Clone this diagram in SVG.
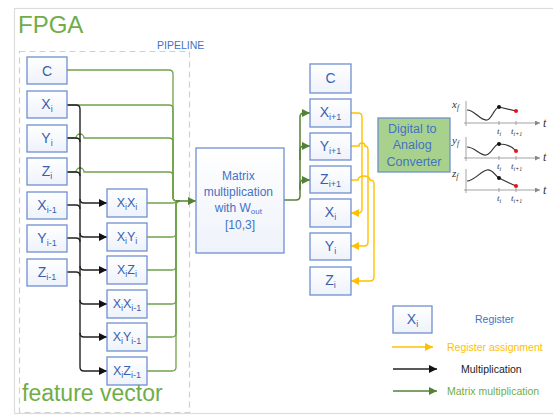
<svg xmlns="http://www.w3.org/2000/svg" width="553" height="417" viewBox="0 0 553 417">
  <defs>
    <linearGradient id="boxFill" x1="0" y1="0" x2="0" y2="1">
      <stop offset="0" stop-color="#ffffff"/>
      <stop offset="1" stop-color="#eef2fa"/>
    </linearGradient>
    <marker id="arrGreen" viewBox="0 0 10 10" refX="10" refY="5" markerWidth="8" markerHeight="8" markerUnits="userSpaceOnUse" orient="auto">
      <path d="M0,0 L10,5 L0,10 z" fill="#548235"/>
    </marker>
    <marker id="arrBlack" viewBox="0 0 10 10" refX="10" refY="5" markerWidth="8" markerHeight="8" markerUnits="userSpaceOnUse" orient="auto">
      <path d="M0,0 L10,5 L0,10 z" fill="#111"/>
    </marker>
    <marker id="arrYellow" viewBox="0 0 10 10" refX="10" refY="5" markerWidth="8" markerHeight="8" markerUnits="userSpaceOnUse" orient="auto">
      <path d="M0,0 L10,5 L0,10 z" fill="#FFC000"/>
    </marker>
    <marker id="arrAxis" viewBox="0 0 10 10" refX="10" refY="5" markerWidth="5" markerHeight="5" markerUnits="userSpaceOnUse" orient="auto">
      <path d="M0,0 L10,5 L0,10 z" fill="#888"/>
    </marker>
  </defs>
  <style>
    .box { fill: url(#boxFill); stroke: #6F8FD0; stroke-width: 1.3; }
    .lbl { font-family: "Liberation Sans", Arial, sans-serif; font-size: 14px; fill: #3A5FAF; text-anchor: middle; }
    .plbl { font-family: "Liberation Sans", Arial, sans-serif; font-size: 12.5px; fill: #3A5FAF; text-anchor: middle; }
    .sub { font-size: 9px; }
    .green { fill: none; stroke: #6FA34C; stroke-width: 1.3; }
    .green2 { fill: none; stroke: #548235; stroke-width: 1.5; }
    .black { fill: none; stroke: #222; stroke-width: 1.4; }
    .yellow { fill: none; stroke: #FFC000; stroke-width: 1.4; }
    .blueTxt { font-family: "Liberation Sans", Arial, sans-serif; fill: #4472C4; }
    .legTxt { font-family: "Liberation Sans", Arial, sans-serif; font-size: 10.5px; }
    .curve { fill: none; stroke: #333; stroke-width: 1.2; }
    .axis { fill: none; stroke: #999; stroke-width: 0.9; }
    .math { font-family: "Liberation Serif", "Times New Roman", serif; font-style: italic; fill: #333; }
  </style>

  <!-- frame -->
  <rect x="14.5" y="8.5" width="560" height="405" fill="#fff" stroke="#dcdcdc" stroke-width="1.2"/>
  <text x="18" y="33" font-family="Liberation Sans, Arial, sans-serif" font-size="24" fill="#70AD47">FPGA</text>
  <text x="157" y="49" class="blueTxt" font-size="10.5">PIPELINE</text>
  <rect x="19.5" y="51.5" width="170" height="361" fill="none" stroke="#d0d0d0" stroke-width="1.2" stroke-dasharray="6,4"/>
  <text x="22" y="401" font-family="Liberation Sans, Arial, sans-serif" font-size="23" fill="#70AD47">feature vector</text>

  <!-- connectors -->
  <g id="connectors">
    <!-- inputs to matrix multiplication -->
    <path class="green" d="M67,70 H169 Q173,70 173,74 V197 Q173,201 177,201"/>
    <path class="green" d="M67,105 H169 Q173,105 173,109 V197 Q173,201 177,201"/>
    <path class="green" d="M67,138 H76 a4,4 0 0 1 8,0 H169 Q173,138 173,142 V197 Q173,201 177,201"/>
    <path class="green" d="M67,172 H76 a4,4 0 0 1 8,0 H169 Q173,172 173,176 V197 Q173,201 177,201"/>
    <path class="green" d="M147,203 H172 Q176,203 176,201"/>
    <path class="green" d="M147,237 H172 Q176,237 176,233 V205 Q176,201 180,201"/>
    <path class="green" d="M147,270 H172 Q176,270 176,266 V205 Q176,201 180,201"/>
    <path class="green" d="M147,304 H172 Q176,304 176,300 V205 Q176,201 180,201"/>
    <path class="green" d="M147,337 H172 Q176,337 176,333 V205 Q176,201 180,201"/>
    <path class="green" d="M147,371 H172 Q176,371 176,367 V205 Q176,201 180,201"/>
    <path class="green2" d="M176,201 H196" marker-end="url(#arrGreen)"/>

    <!-- multiplication bus -->
    <path class="black" d="M67,105 H76 Q80,105 80,109 V367 Q80,371 84,371 H107" marker-end="url(#arrBlack)"/>
    <path class="black" d="M67,138 H76 Q80,138 80,142"/>
    <path class="black" d="M67,172 H76 Q80,172 80,176"/>
    <path class="black" d="M67,205 H76 Q80,205 80,209"/>
    <path class="black" d="M67,238 H76 Q80,238 80,242"/>
    <path class="black" d="M67,272 H76 Q80,272 80,276"/>
    <path class="black" d="M80,199 Q80,203 84,203 H107" marker-end="url(#arrBlack)"/>
    <path class="black" d="M80,233 Q80,237 84,237 H107" marker-end="url(#arrBlack)"/>
    <path class="black" d="M80,266 Q80,270 84,270 H107" marker-end="url(#arrBlack)"/>
    <path class="black" d="M80,300 Q80,304 84,304 H107" marker-end="url(#arrBlack)"/>
    <path class="black" d="M80,333 Q80,337 84,337 H107" marker-end="url(#arrBlack)"/>

    <!-- matrix output to next state -->
    <path class="green2" d="M284,200 H296 Q300,200 300,196 V117 Q300,113 304,113 H310" marker-end="url(#arrGreen)"/>
    <path class="green2" d="M300,160 V150 Q300,146 304,146 H310" marker-end="url(#arrGreen)"/>
    <path class="green2" d="M300,190 V184 Q300,180 304,180 H310" marker-end="url(#arrGreen)"/>

    <!-- register assignment -->
    <path class="yellow" d="M351,113 H358 Q362,113 362,117 V209 Q362,213 358,213 H351" marker-end="url(#arrYellow)"/>
    <path class="yellow" d="M351,146 H359 a3,3 0 0 1 6,0 Q368,146 368,150 V242 Q368,246 364,246 H351" marker-end="url(#arrYellow)"/>
    <path class="yellow" d="M351,180 H358 a6,4 0 0 1 12,0 Q374,180 374,184 V277 Q374,281 370,281 H351" marker-end="url(#arrYellow)"/>
  </g>

  <!-- feature registers -->
  <g id="reg-c"><rect class="box" x="27" y="57" width="40" height="27"/><text class="lbl" x="47" y="75.5">C</text></g>
  <g id="reg-xi"><rect class="box" x="27" y="91" width="40" height="27"/><text class="lbl" x="47" y="109">X<tspan class="sub" dy="3">i</tspan></text></g>
  <g id="reg-yi"><rect class="box" x="27" y="125" width="40" height="27"/><text class="lbl" x="47" y="143">Y<tspan class="sub" dy="3">i</tspan></text></g>
  <g id="reg-zi"><rect class="box" x="27" y="158" width="40" height="27"/><text class="lbl" x="47" y="176">Z<tspan class="sub" dy="3">i</tspan></text></g>
  <g id="reg-xim1"><rect class="box" x="27" y="192" width="40" height="27"/><text class="lbl" x="47" y="210">X<tspan class="sub" dy="3">i-1</tspan></text></g>
  <g id="reg-yim1"><rect class="box" x="27" y="225" width="40" height="27"/><text class="lbl" x="47" y="243">Y<tspan class="sub" dy="3">i-1</tspan></text></g>
  <g id="reg-zim1"><rect class="box" x="27" y="259" width="40" height="27"/><text class="lbl" x="47" y="277">Z<tspan class="sub" dy="3">i-1</tspan></text></g>

  <!-- products -->
  <g id="p-xx"><rect class="box" x="107" y="189" width="40" height="28"/><text class="plbl" x="127" y="207">X<tspan class="sub" dy="3">i</tspan><tspan dy="-3">X</tspan><tspan class="sub" dy="3">i</tspan></text></g>
  <g id="p-xy"><rect class="box" x="107" y="223" width="40" height="28"/><text class="plbl" x="127" y="241">X<tspan class="sub" dy="3">i</tspan><tspan dy="-3">Y</tspan><tspan class="sub" dy="3">i</tspan></text></g>
  <g id="p-xz"><rect class="box" x="107" y="256" width="40" height="28"/><text class="plbl" x="127" y="274">X<tspan class="sub" dy="3">i</tspan><tspan dy="-3">Z</tspan><tspan class="sub" dy="3">i</tspan></text></g>
  <g id="p-xxm"><rect class="box" x="107" y="290" width="40" height="28"/><text class="plbl" x="127" y="308">X<tspan class="sub" dy="3">i</tspan><tspan dy="-3">X</tspan><tspan class="sub" dy="3">i-1</tspan></text></g>
  <g id="p-xym"><rect class="box" x="107" y="323" width="40" height="28"/><text class="plbl" x="127" y="341">X<tspan class="sub" dy="3">i</tspan><tspan dy="-3">Y</tspan><tspan class="sub" dy="3">i-1</tspan></text></g>
  <g id="p-xzm"><rect class="box" x="107" y="357" width="40" height="28"/><text class="plbl" x="127" y="375">X<tspan class="sub" dy="3">i</tspan><tspan dy="-3">Z</tspan><tspan class="sub" dy="3">i-1</tspan></text></g>

  <!-- matrix multiplication -->
  <g id="matmul">
    <rect class="box" x="196" y="148" width="88" height="105"/>
    <text class="blueTxt" font-size="12" text-anchor="middle">
      <tspan x="240" y="180">Matrix</tspan>
      <tspan x="240" y="196">multiplication</tspan>
      <tspan x="240" y="212">with W<tspan font-size="8" dy="2">out</tspan></tspan>
      <tspan x="240" y="229">[10,3]</tspan>
    </text>
  </g>

  <!-- state registers -->
  <g id="s-c"><rect class="box" x="310" y="64" width="41" height="29"/><text class="lbl" x="330.5" y="83">C</text></g>
  <g id="s-xn"><rect class="box" x="310" y="99" width="41" height="28"/><text class="lbl" x="330.5" y="117">X<tspan class="sub" dy="3">i+1</tspan></text></g>
  <g id="s-yn"><rect class="box" x="310" y="133" width="41" height="27"/><text class="lbl" x="330.5" y="151">Y<tspan class="sub" dy="3">i+1</tspan></text></g>
  <g id="s-zn"><rect class="box" x="310" y="166" width="41" height="27"/><text class="lbl" x="330.5" y="184">Z<tspan class="sub" dy="3">i+1</tspan></text></g>
  <g id="s-x"><rect class="box" x="310" y="199" width="41" height="28"/><text class="lbl" x="330.5" y="217">X<tspan class="sub" dy="3">i</tspan></text></g>
  <g id="s-y"><rect class="box" x="310" y="233" width="41" height="27"/><text class="lbl" x="330.5" y="251">Y<tspan class="sub" dy="3">i</tspan></text></g>
  <g id="s-z"><rect class="box" x="310" y="267" width="41" height="28"/><text class="lbl" x="330.5" y="285">Z<tspan class="sub" dy="3">i</tspan></text></g>

  <!-- DAC -->
  <g id="dac">
    <rect x="378" y="118" width="72" height="54" fill="#A9D18E" stroke="#6F8FD0" stroke-width="1.3"/>
    <text class="blueTxt" font-size="12.5" text-anchor="middle">
      <tspan x="414" y="133">Digital to</tspan>
      <tspan x="414" y="149">Analog</tspan>
      <tspan x="414" y="166">Converter</tspan>
    </text>
  </g>

  <!-- trajectory plots -->
  <g id="plots">
    <path class="axis" d="M466,101 V126"/>
    <path class="axis" d="M464,123 H540" marker-end="url(#arrAxis)"/>
    <path class="axis" d="M499,121 V125 M516,121 V125"/>
    <path class="curve" d="M467,110 C475,110 480,121 487,120 C492,119 494,108 499,107 L516,111"/>
    <circle cx="499" cy="107" r="2" fill="#111"/>
    <circle cx="516" cy="111" r="2" fill="#e11"/>
    <text class="math" x="452" y="108" font-size="11">x<tspan font-size="7.5" dy="2">f</tspan></text>
    <text class="math" x="543" y="127" font-size="12">t</text>
    <text class="math" x="497" y="134" font-size="9">t<tspan font-size="6" dy="1.5">i</tspan></text>
    <text class="math" x="511" y="134" font-size="9">t<tspan font-size="6" dy="1.5">i+1</tspan></text>

    <path class="axis" d="M466,137 V161"/>
    <path class="axis" d="M464,158 H540" marker-end="url(#arrAxis)"/>
    <path class="axis" d="M499,156 V160 M516,156 V160"/>
    <path class="curve" d="M467,147 C475,147 480,156 486,155 C492,154 494,144 499,144 C506,144 512,146 516,151"/>
    <circle cx="499" cy="144" r="2" fill="#111"/>
    <circle cx="516" cy="151" r="2" fill="#e11"/>
    <text class="math" x="452" y="144" font-size="11">y<tspan font-size="7.5" dy="2">f</tspan></text>
    <text class="math" x="543" y="161" font-size="12">t</text>
    <text class="math" x="497" y="169" font-size="9">t<tspan font-size="6" dy="1.5">i</tspan></text>
    <text class="math" x="511" y="169" font-size="9">t<tspan font-size="6" dy="1.5">i+1</tspan></text>

    <path class="axis" d="M466,169 V193"/>
    <path class="axis" d="M464,190 H540" marker-end="url(#arrAxis)"/>
    <path class="axis" d="M499,188 V192 M516,188 V192"/>
    <path class="curve" d="M467,181 C474,181 481,171 487,170 C493,169 495,176 499,178 C505,181 511,184 516,186"/>
    <circle cx="499" cy="178" r="2" fill="#111"/>
    <circle cx="516" cy="186" r="2" fill="#e11"/>
    <text class="math" x="452" y="177" font-size="11">z<tspan font-size="7.5" dy="2">f</tspan></text>
    <text class="math" x="543" y="194" font-size="12">t</text>
    <text class="math" x="497" y="201" font-size="9">t<tspan font-size="6" dy="1.5">i</tspan></text>
    <text class="math" x="511" y="201" font-size="9">t<tspan font-size="6" dy="1.5">i+1</tspan></text>
  </g>

  <!-- legend -->
  <g id="legend">
    <rect class="box" x="393" y="306" width="39" height="27"/>
    <text class="lbl" x="412.5" y="324">X<tspan class="sub" dy="3">i</tspan></text>
    <text class="blueTxt" x="475" y="323" font-size="10.5">Register</text>
    <path class="yellow" d="M392,347 H433" marker-end="url(#arrYellow)"/>
    <text class="legTxt" x="447" y="351" fill="#FFC000">Register assignment</text>
    <path class="black" d="M393,369 H437" marker-end="url(#arrBlack)"/>
    <text class="legTxt" x="461" y="373" fill="#222">Multiplication</text>
    <path class="green2" d="M393,391 H437" marker-end="url(#arrGreen)"/>
    <text class="legTxt" x="447" y="395" fill="#70AD47">Matrix multiplication</text>
  </g>
</svg>
